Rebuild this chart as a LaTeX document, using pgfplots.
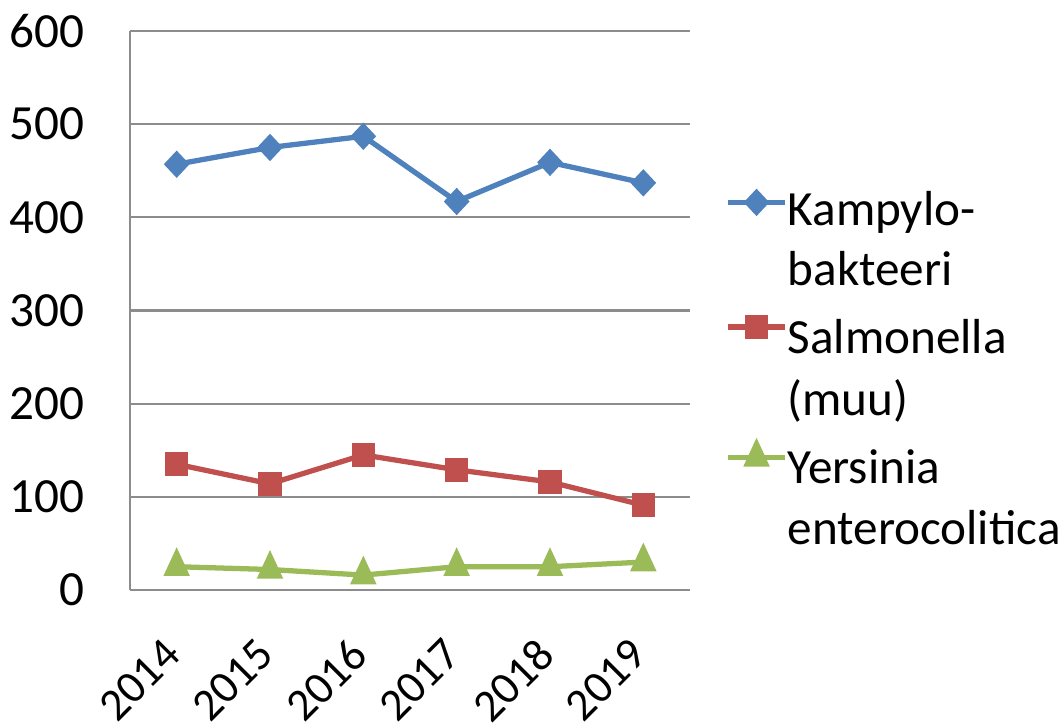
\documentclass[border=0pt]{standalone}
\usepackage{pgfplots}
\pgfplotsset{compat=1.18}
\usepackage{fontspec}
\setmainfont{Carlito}
\definecolor{cblue}{HTML}{4F81BD}
\definecolor{cred}{HTML}{C0504D}
\definecolor{cgreen}{HTML}{9BBB59}
\definecolor{cgrid}{HTML}{8C8C8C}
% struts: normal line, and first line of a new entry (more room above)
\newcommand{\lnorm}[1]{\rule[-4pt]{0pt}{12pt}#1}
\newcommand{\lfirst}[1]{\rule[-4pt]{0pt}{15.8pt}#1}
\begin{document}
\begin{tikzpicture}
\begin{axis}[
    at={(0,0)}, anchor=south west,
    scale only axis,
    width=5.6cm, height=5.59cm,
    xmin=-0.5, xmax=5.5,
    ymin=0, ymax=600,
    xtick={0,...,5},
    xticklabels={2014,2015,2016,2017,2018,2019},
    ytick={0,100,...,600},
    ymajorgrids,
    major grid style={cgrid, line width=0.6pt},
    axis line style={cgrid, line width=0.6pt},
    axis x line*=bottom, axis y line*=left,
    major tick length=0pt,
    /pgf/number format/assume math mode=true,
    tick label style={font=\fontsize{14}{17}\selectfont},
    yticklabel style={xshift=-0.33cm},
    xticklabel style={font=\fontsize{13}{16}\selectfont, anchor=north east,
        xshift=-0.15cm, yshift=-0.29cm, rotate=45},
    legend style={draw=none, fill=none, at={(1.062,0.7275)}, anchor=north west,
        inner sep=0pt, row sep=2pt, column sep=-2pt,
        font=\fontsize{14}{17}\selectfont,
        cells={anchor=base west, inner xsep=0pt, inner ysep=0pt}},
    legend image code/.code={
        \draw[mark repeat=2, mark phase=2] plot coordinates {(0cm,0.5ex) (0.285cm,0.5ex) (0.57cm,0.5ex)};},
    legend cell align=left,
    every axis plot/.append style={line width=1.5pt},
    clip=false,
]
\addplot[cblue, mark=diamond*, mark size=2.8pt, mark options={xscale=1.25}, forget plot] coordinates {
    (0,457) (1,475) (2,487) (3,417) (4,459) (5,437)};
\addplot[cred, mark=square*, mark size=2.6pt, forget plot] coordinates {
    (0,135) (1,114) (2,145) (3,129) (4,116) (5,91)};
\addplot[cgreen, mark=triangle*, mark size=3pt, mark options={yscale=1.25}, forget plot] coordinates {
    (0,25) (1,22) (2,16) (3,25) (4,25) (5,30)};
\addlegendimage{cblue, line width=1.5pt, mark=diamond*, mark size=2.8pt, mark options={xscale=1.25}}
\addlegendentry{\lnorm{Kampylo-}}
\addlegendimage{empty legend}
\addlegendentry{\lnorm{bakteeri}}
\addlegendimage{cred, line width=1.5pt, mark=square*, mark size=2.6pt}
\addlegendentry{\lfirst{Salmonella}}
\addlegendimage{empty legend}
\addlegendentry{\lnorm{(muu)}}
\addlegendimage{cgreen, line width=1.5pt, mark=triangle*, mark size=3pt, mark options={yscale=1.25}}
\addlegendentry{\lfirst{Yersinia}}
\addlegendimage{empty legend}
\addlegendentry{\lnorm{enterocolitica}}
\end{axis}
\pgfresetboundingbox
\path (-1.3cm,-1.32cm) rectangle (9.33cm,5.9cm);
\end{tikzpicture}
\end{document}
